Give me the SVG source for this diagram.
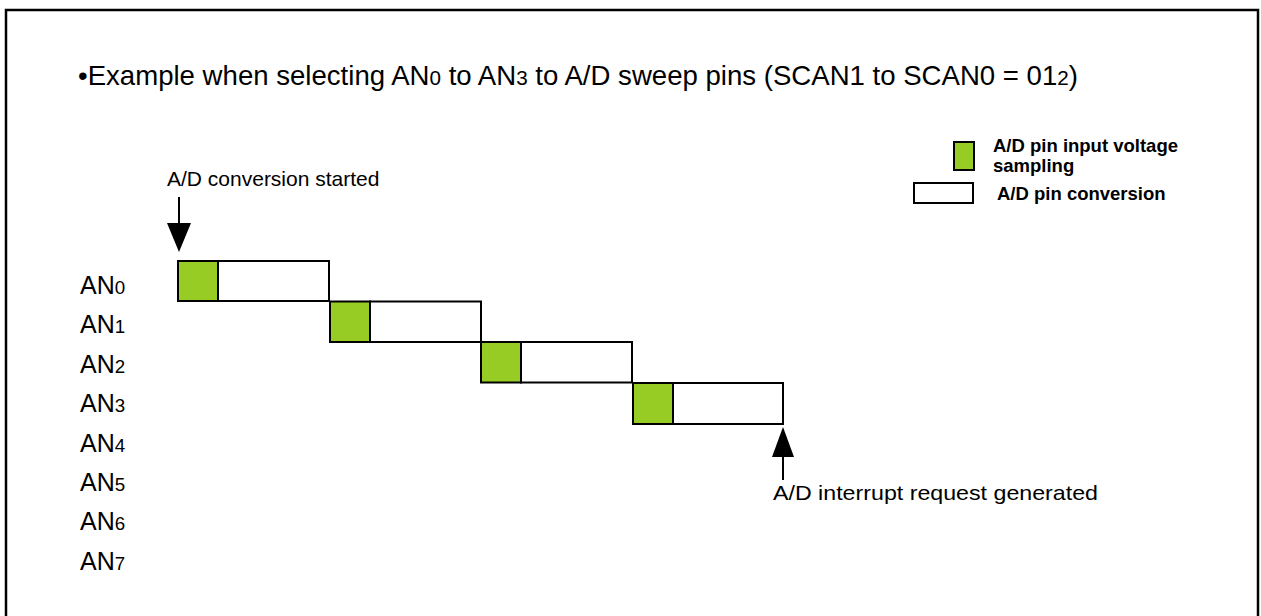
<svg xmlns="http://www.w3.org/2000/svg" width="1261" height="616" viewBox="0 0 1261 616">
<style>
text{font-family:"Liberation Sans",Arial,sans-serif;fill:#000}
.sub{font-size:0.75em}
.samp{fill:#96CC24;stroke:#000;stroke-width:2}
.conv{fill:#fff;stroke:#000;stroke-width:2}
.lbl{font-size:25px}
.leg{font-size:18.5px;font-weight:bold}
</style>
<rect x="6" y="10" width="1252" height="620" fill="#fff" stroke="#000" stroke-width="2.5"/>
<text x="78" y="85" font-size="27.5" textLength="1000" lengthAdjust="spacingAndGlyphs">•Example when selecting AN<tspan class="sub">0</tspan> to AN<tspan class="sub">3</tspan> to A/D sweep pins (SCAN1 to SCAN0 = 01<tspan class="sub">2</tspan>)</text>
<g id="legend">
<rect class="samp" x="954" y="142" width="20" height="28"/>
<rect class="conv" x="914" y="183" width="59" height="20"/>
<text class="leg" x="993" y="152">A/D pin input voltage</text>
<text class="leg" x="993" y="172">sampling</text>
<text class="leg" x="997" y="200">A/D pin conversion</text>
</g>
<g id="labels">
<text class="lbl" x="80" y="294">AN<tspan class="sub">0</tspan></text>
<text class="lbl" x="80" y="333.4">AN<tspan class="sub">1</tspan></text>
<text class="lbl" x="80" y="372.8">AN<tspan class="sub">2</tspan></text>
<text class="lbl" x="80" y="412.2">AN<tspan class="sub">3</tspan></text>
<text class="lbl" x="80" y="451.6">AN<tspan class="sub">4</tspan></text>
<text class="lbl" x="80" y="491">AN<tspan class="sub">5</tspan></text>
<text class="lbl" x="80" y="530.4">AN<tspan class="sub">6</tspan></text>
<text class="lbl" x="80" y="569.8">AN<tspan class="sub">7</tspan></text>
</g>
<g id="an0"><rect class="conv" x="218" y="261" width="111" height="40"/><rect class="samp" x="178" y="261" width="40" height="40"/></g>
<g id="an1"><rect class="conv" x="370" y="301.5" width="111" height="40.5"/><rect class="samp" x="330" y="301.5" width="40" height="40.5"/></g>
<g id="an2"><rect class="conv" x="521" y="342" width="111" height="40.5"/><rect class="samp" x="481" y="342" width="40" height="40.5"/></g>
<g id="an3"><rect class="conv" x="673" y="383" width="110" height="41"/><rect class="samp" x="633" y="383" width="40" height="41"/></g>
<g id="connectors">
<line x1="179" y1="197" x2="179" y2="224" stroke="#000" stroke-width="2"/>
<polygon points="167,223 191,223 179,252" fill="#000"/>
<line x1="783" y1="455" x2="783" y2="480" stroke="#000" stroke-width="2"/>
<polygon points="772,457 794,457 783,427" fill="#000"/>
</g>
<text x="167" y="186" font-size="21">A/D conversion started</text>
<text x="773" y="500" font-size="21" textLength="325" lengthAdjust="spacingAndGlyphs">A/D interrupt request generated</text>
</svg>
